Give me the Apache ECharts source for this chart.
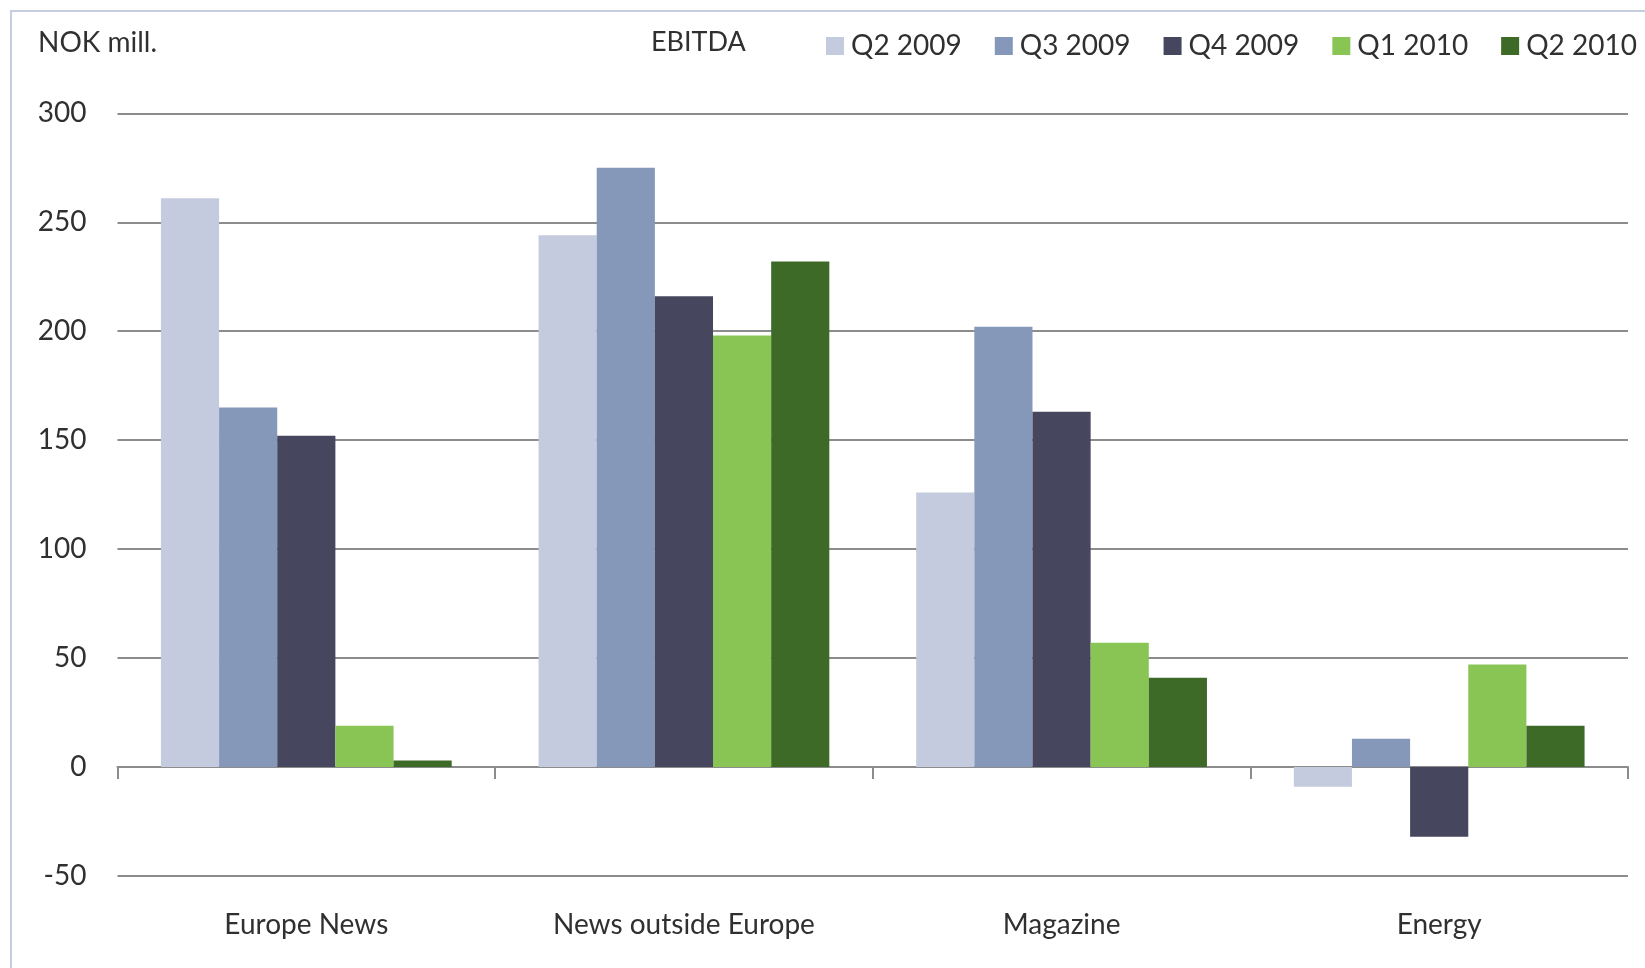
<!DOCTYPE html>
<html>
<head>
<meta charset="utf-8">
<title>EBITDA by segment</title>
<script src="https://cdn.jsdelivr.net/npm/echarts@6/dist/echarts.min.js"></script>
<style>
  html, body { margin: 0; padding: 0; background: #ffffff; }
  #chart { width: 1645px; height: 968px; }
</style>
</head>
<body>
<div id="chart"></div>
<script>
// Segments along the category axis
const categories = ['Europe News', 'News outside Europe', 'Magazine', 'Energy'];

// Quarter names shown in the legend
const quarters = ['Q2 2009', 'Q3 2009', 'Q4 2009', 'Q1 2010', 'Q2 2010'];

// EBITDA, NOK mill., one array per quarter (ordered as categories)
const q2_2009 = [261, 244, 126, -9];
const q3_2009 = [165, 275, 202, 13];
const q4_2009 = [152, 216, 163, -32];
const q1_2010 = [19, 198, 57, 47];
const q2_2010 = [3, 232, 41, 19];

// Value axis range and step
const yMin = -50;
const yMax = 300;
const yStep = 50;

const seriesValues = [q2_2009, q3_2009, q4_2009, q1_2010, q2_2010];
const colors = ['#c4cbde', '#8598b9', '#46465e', '#88c554', '#3e6a28'];

const FONT = 'Lato, "Open Sans", sans-serif';
const TEXT = '#303030';
const GRID_LINE = '#8c8c8c';

const chart = echarts.init(document.getElementById('chart'), null, { renderer: 'canvas' });

chart.setOption({
  backgroundColor: '#ffffff',
  animation: false,
  color: colors,
  textStyle: { fontFamily: FONT },
  graphic: [
    {
      type: 'rect',
      shape: { x: 11, y: 11, width: 1700, height: 1000 },
      style: { fill: 'none', stroke: '#c6cde0', lineWidth: 2 },
      silent: true
    },
    {
      type: 'text',
      left: 38,
      top: 29,
      style: { text: 'NOK mill.', fontFamily: FONT, fontSize: 28, fill: TEXT }
    },
    {
      type: 'text',
      left: 651,
      top: 29,
      style: { text: 'EBITDA', fontFamily: FONT, fontSize: 27, fill: TEXT }
    }
  ],
  legend: {
    left: 821,
    top: 27,
    width: 1000,
    itemWidth: 18,
    itemHeight: 18,
    itemGap: 33,
    icon: 'rect',
    data: quarters,
    textStyle: { fontFamily: FONT, fontSize: 28, color: TEXT, padding: [0, 0, 0, 2] }
  },
  grid: {
    left: 117.5,
    right: 17,
    top: 113.3,
    bottom: 92,
    containLabel: false,
    outerBoundsMode: 'none'
  },
  xAxis: [
    {
      // zero line with boundary ticks
      type: 'category',
      data: categories,
      axisLine: { onZero: true, lineStyle: { color: GRID_LINE, width: 2 } },
      axisTick: { show: true, length: 12, lineStyle: { color: GRID_LINE, width: 2 } },
      axisLabel: { show: false },
      splitLine: { show: false }
    },
    {
      // segment names along the bottom edge
      type: 'category',
      data: categories,
      position: 'bottom',
      axisLine: { show: false, onZero: false },
      axisTick: { show: false },
      axisLabel: {
        show: true,
        margin: 35,
        fontFamily: FONT,
        fontSize: 28,
        color: TEXT
      },
      splitLine: { show: false }
    }
  ],
  yAxis: {
    type: 'value',
    min: yMin,
    max: yMax,
    interval: yStep,
    axisLine: { show: false },
    axisTick: { show: false },
    axisLabel: {
      margin: 31,
      fontFamily: FONT,
      fontSize: 28,
      color: TEXT
    },
    splitLine: { show: true, lineStyle: { color: GRID_LINE, width: 2 } }
  },
  series: quarters.map((name, i) => ({
    name: name,
    type: 'bar',
    xAxisIndex: 0,
    data: seriesValues[i],
    barGap: '0%',
    barCategoryGap: '23%',
    itemStyle: { color: colors[i] },
    z: 3
  }))
});
</script>
</body>
</html>
